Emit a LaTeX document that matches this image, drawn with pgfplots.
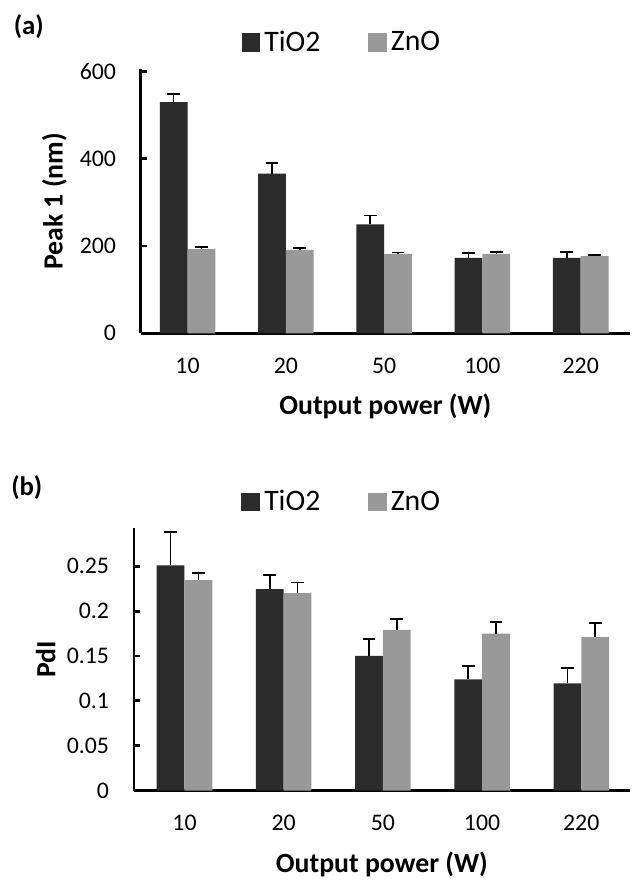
\documentclass[border=0pt]{standalone}
\usepackage{pgfplots}
\pgfplotsset{compat=1.18}
\usepackage{fontspec}
\setmainfont{Carlito}
\definecolor{tio}{HTML}{2B2B2B}
\definecolor{zno}{HTML}{999999}

\pgfplotsset{
  panel/.style={
    scale only axis,
    ybar=0pt,
    bar width=14pt,
    axis x line=bottom,
    axis y line=left,
    axis line style={-, line width=1.4pt, black},
    xtick={0,1,2,3,4},
    xticklabels={10,20,50,100,220},
    x tick style={draw=none},
    y tick style={line width=1.4pt, black},
    tick align=inside,
    major tick length=3pt,
    ymin=0,
    /pgf/number format/assume math mode=true,
    tick label style={font=\fontsize{12}{14}\selectfont},
    xticklabel style={yshift=-9pt},
    yticklabel style={xshift=-9pt},
    label style={font=\bfseries\fontsize{14}{16}\selectfont},
    xlabel={Output power (W)},
    legend columns=2,
    legend style={draw=none, fill=none, font=\fontsize{15}{17}\selectfont,
      anchor=west, inner sep=0pt,
      /tikz/every even column/.append style={column sep=22pt}},
    legend image code/.code={\fill[##1] (0pt,-4.75pt) rectangle (9.5pt,4.75pt);},
    error bars/y dir=plus,
    error bars/y explicit,
    error bars/error mark=-,
    error bars/error bar style={line width=0.8pt, black},
    error bars/error mark options={line width=0.8pt, black, mark size=3.25pt, rotate=90},
  },
}

\begin{document}
\begin{tikzpicture}
\path (0,0) rectangle (317.5pt,-441.5pt);

% (a) Peak 1
\begin{axis}[panel,
  at={(71pt,-168pt)}, anchor=south west,
  width=246.5pt, height=133pt,
  xmin=-0.475, xmax=4.5,
  ymax=605,
  ytick={0,200,400,600},
  ylabel={Peak 1 (nm)},
  ylabel style={at={(axis description cs:-0.1765,0.5)}, anchor=center},
  xlabel style={at={(axis description cs:0.5,-0.278)}, anchor=center},
  legend style={at={(axis description cs:0.205,1.1015)}},
]
\addplot[fill=tio, draw=none] coordinates {
  (0,530) +- (0,18)
  (1,366) +- (0,25)
  (2,250) +- (0,20)
  (3,173) +- (0,11)
  (4,173) +- (0,13)
};
\addlegendentry{TiO2}
\addplot[fill=zno, draw=none] coordinates {
  (0,193) +- (0,5)
  (1,191) +- (0,4)
  (2,182) +- (0,3)
  (3,182) +- (0,4)
  (4,177) +- (0,3)
};
\addlegendentry{ZnO}
\end{axis}

% (b) PdI
\begin{axis}[panel,
  at={(67.5pt,-398.5pt)}, anchor=south west,
  width=250pt, height=132.5pt,
  xmin=-0.51, xmax=4.49,
  ymax=0.293,
  ytick={0,0.05,0.1,0.15,0.2,0.25},
  yticklabels={0,0.05,0.1,0.15,0.2,0.25},
  ylabel={PdI},
  ylabel style={at={(axis description cs:-0.178,0.5)}, anchor=center},
  xlabel style={at={(axis description cs:0.5,-0.279)}, anchor=center},
  legend style={at={(axis description cs:0.216,1.098)}},
]
\addplot[fill=tio, draw=none] coordinates {
  (0,0.251) +- (0,0.037)
  (1,0.2245) +- (0,0.016)
  (2,0.150) +- (0,0.019)
  (3,0.124) +- (0,0.015)
  (4,0.1195) +- (0,0.017)
};
\addlegendentry{TiO2}
\addplot[fill=zno, draw=none] coordinates {
  (0,0.2345) +- (0,0.008)
  (1,0.220) +- (0,0.012)
  (2,0.179) +- (0,0.012)
  (3,0.175) +- (0,0.013)
  (4,0.171) +- (0,0.016)
};
\addlegendentry{ZnO}
\end{axis}

\node[font=\bfseries\fontsize{13.5}{15}\selectfont] at (14.5pt,-13.5pt) {(a)};
\node[font=\bfseries\fontsize{13.5}{15}\selectfont] at (13.5pt,-246pt) {(b)};
\end{tikzpicture}
\end{document}
